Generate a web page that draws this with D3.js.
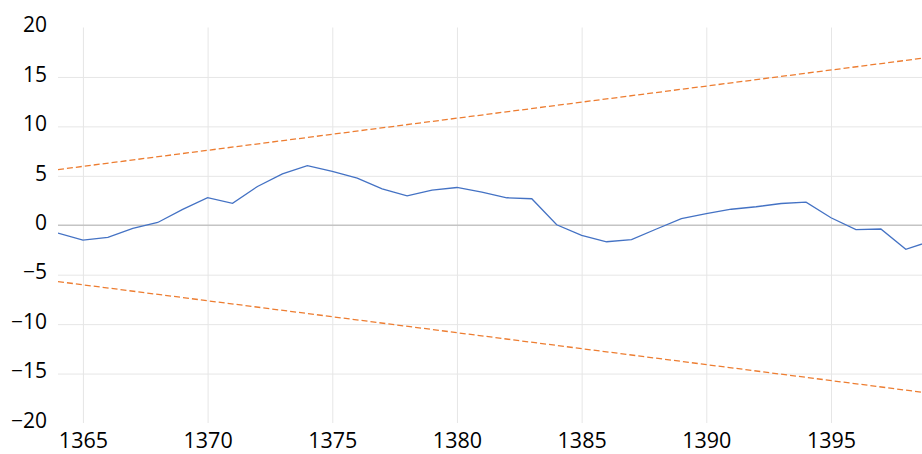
<!DOCTYPE html>
<html>
<head>
<meta charset="utf-8">
<script src="https://cdn.jsdelivr.net/npm/d3@7"></script>
<style>
  body { margin: 0; background: #fff; }
  svg { display: block; }
</style>
</head>
<body>
<div id="chart"></div>
<script>
// yearly index values (blue line)
const years = [1364, 1365, 1366, 1367, 1368, 1369, 1370, 1371, 1372, 1373, 1374, 1375,
  1376, 1377, 1378, 1379, 1380, 1381, 1382, 1383, 1384, 1385, 1386, 1387, 1388,
  1389, 1390, 1391, 1392, 1393, 1394, 1395, 1396, 1397, 1398, 1399];
const values = [-0.8, -1.5, -1.22, -0.32, 0.28, 1.6, 2.8, 2.22, 3.92, 5.2, 6.03, 5.45,
  4.77, 3.68, 2.97, 3.55, 3.82, 3.35, 2.78, 2.68, 0.05, -1.03, -1.67, -1.46, -0.38,
  0.68, 1.17, 1.62, 1.87, 2.2, 2.34, 0.76, -0.45, -0.38, -2.44, -1.6];

// confidence band (orange dashed lines), straight lines between end years
const bandYears = [1364, 1399];
const upperBand = [5.63, 17.0];
const lowerBand = [-5.7, -17.0];

const xTicks = [1365, 1370, 1375, 1380, 1385, 1390, 1395];
const yTicks = [20, 15, 10, 5, 0, -5, -10, -15, -20];

const width = 922, height = 454;
const margin = { left: 58, right: 922, top: 27.5, bottom: 423 };

const svg = d3.select("#chart")
  .append("svg")
  .attr("width", width)
  .attr("height", height);

const x = d3.scaleLinear().domain([1364, 1398.65]).range([margin.left, margin.right]);
const y = d3.scaleLinear().domain([-20, 20]).range([margin.bottom, margin.top]);

svg.append("defs").append("clipPath")
  .attr("id", "plot")
  .append("rect")
  .attr("x", margin.left).attr("y", 0)
  .attr("width", margin.right - margin.left).attr("height", height);

// horizontal gridlines (none at the outer ticks)
svg.append("g")
  .attr("transform", `translate(${margin.left},0)`)
  .call(d3.axisLeft(y)
    .tickValues(yTicks.filter(d => Math.abs(d) < 20 && d !== 0))
    .tickSize(-(margin.right - margin.left))
    .tickFormat(""))
  .call(g => g.select(".domain").remove())
  .call(g => g.selectAll("line").attr("stroke", "#e6e6e6").attr("stroke-width", 1));

// vertical gridlines
svg.append("g")
  .attr("transform", `translate(0,${margin.bottom})`)
  .call(d3.axisBottom(x)
    .tickValues(xTicks)
    .tickSize(-(margin.bottom - margin.top))
    .tickFormat(""))
  .call(g => g.select(".domain").remove())
  .call(g => g.selectAll("line").attr("stroke", "#e6e6e6").attr("stroke-width", 1));

// zero line
svg.append("line")
  .attr("x1", margin.left).attr("x2", margin.right)
  .attr("y1", y(0)).attr("y2", y(0))
  .attr("stroke", "#c4c4c4")
  .attr("stroke-width", 1.3);

// y labels
svg.append("g")
  .attr("transform", `translate(${margin.left},0)`)
  .call(d3.axisLeft(y).tickValues(yTicks).tickSize(0).tickPadding(11))
  .call(g => g.select(".domain").remove())
  .call(g => g.selectAll("text")
    .attr("dy", "0.2em")
    .style("font-family", "'Open Sans', sans-serif")
    .style("font-size", "21px")
    .attr("fill", "#000"));

// x labels
svg.append("g")
  .attr("transform", `translate(0,${margin.bottom})`)
  .call(d3.axisBottom(x).tickValues(xTicks).tickSize(0).tickPadding(10).tickFormat(d3.format("d")))
  .call(g => g.select(".domain").remove())
  .call(g => g.selectAll("text")
    .style("font-family", "'Open Sans', sans-serif")
    .style("font-size", "21.5px")
    .attr("fill", "#000"));

const plot = svg.append("g").attr("clip-path", "url(#plot)");

const bandLine = d3.line().x(d => x(d[0])).y(d => y(d[1]));
[upperBand, lowerBand].forEach(band => {
  plot.append("path")
    .datum(bandYears.map((yr, i) => [yr, band[i]]))
    .attr("d", bandLine)
    .attr("fill", "none")
    .attr("stroke", "#ed7d31")
    .attr("stroke-width", 1.3)
    .attr("stroke-dasharray", "6,3");
});

plot.append("path")
  .datum(years.map((yr, i) => [yr, values[i]]))
  .attr("d", d3.line().x(d => x(d[0])).y(d => y(d[1])))
  .attr("fill", "none")
  .attr("stroke", "#4472c4")
  .attr("stroke-width", 1.3);
</script>
</body>
</html>
